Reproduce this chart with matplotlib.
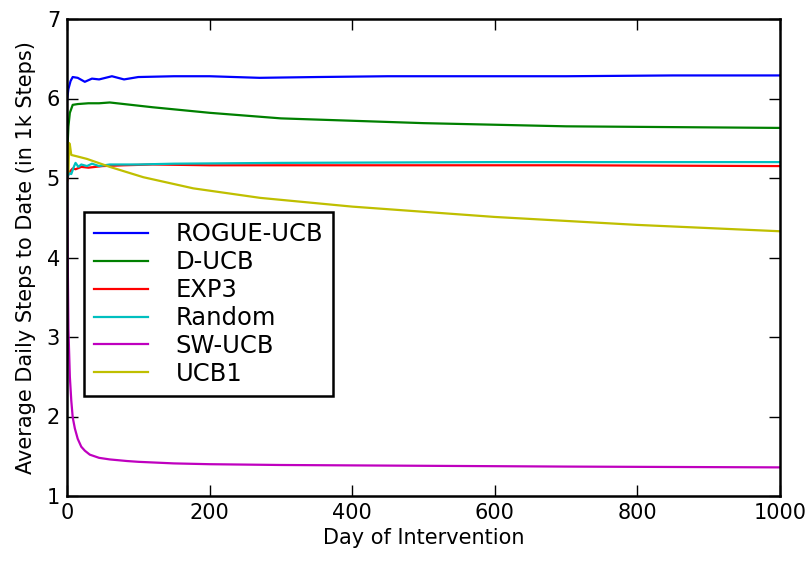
import matplotlib
matplotlib.use("Agg")
import matplotlib.pyplot as plt

# values (day, average daily steps in 1k)
rogue_days = [0, 2, 5, 8, 15, 25, 35, 45, 63, 80, 100, 150, 200, 270, 350, 450, 600, 700, 850, 1000]
rogue_vals = [5.98, 6.12, 6.22, 6.27, 6.26, 6.21, 6.25, 6.24, 6.28, 6.24, 6.27, 6.28, 6.28, 6.26, 6.27, 6.28, 6.28, 6.28, 6.29, 6.29]

ducb_days = [0, 1, 2, 4, 8, 15, 30, 45, 60, 80, 120, 200, 300, 400, 500, 600, 700, 850, 1000]
ducb_vals = [5.0, 5.45, 5.65, 5.82, 5.92, 5.93, 5.94, 5.94, 5.95, 5.93, 5.89, 5.82, 5.75, 5.72, 5.69, 5.67, 5.65, 5.64, 5.63]

exp3_days = [0, 2, 4, 8, 12, 20, 30, 50, 80, 120, 200, 300, 500, 700, 1000]
exp3_vals = [4.95, 5.05, 5.08, 5.12, 5.11, 5.14, 5.13, 5.15, 5.16, 5.17, 5.16, 5.16, 5.16, 5.16, 5.15]

random_days = [0, 3, 6, 10, 12, 16, 20, 28, 35, 45, 60, 100, 150, 300, 600, 1000]
random_vals = [5.0, 5.06, 5.05, 5.15, 5.19, 5.14, 5.17, 5.15, 5.18, 5.15, 5.17, 5.17, 5.18, 5.19, 5.2, 5.2]

swucb_days = [0, 1, 2, 4, 6, 8, 11, 15, 20, 25, 32, 45, 60, 84, 100, 150, 200, 300, 500, 700, 1000]
swucb_vals = [5.0, 4.0, 3.1, 2.5, 2.2, 1.99, 1.85, 1.72, 1.62, 1.57, 1.52, 1.48, 1.46, 1.44, 1.43, 1.41, 1.40, 1.39, 1.38, 1.37, 1.36]

ucb1_days = [0, 2, 3, 4, 6, 15, 28, 60, 107, 177, 271, 400, 600, 800, 1000]
ucb1_vals = [5.05, 5.08, 5.44, 5.42, 5.29, 5.27, 5.24, 5.14, 5.01, 4.87, 4.75, 4.64, 4.51, 4.41, 4.33]

series = [
    ("ROGUE-UCB", rogue_days, rogue_vals, "b"),
    ("D-UCB", ducb_days, ducb_vals, "g"),
    ("EXP3", exp3_days, exp3_vals, "r"),
    ("Random", random_days, random_vals, "c"),
    ("SW-UCB", swucb_days, swucb_vals, "m"),
    ("UCB1", ucb1_days, ucb1_vals, "y"),
]
# old matplotlib single-letter colours
colors = {"b": "#0000ff", "g": "#008000", "r": "#ff0000", "c": "#00bfbf", "m": "#bf00bf", "y": "#bfbf00"}

fig = plt.figure(figsize=(8.11, 5.61), dpi=100)
ax = fig.add_axes([67 / 811, 65 / 561, 713 / 811, 477 / 561])

for name, d, v, c in series:
    ax.plot(d, v, color=colors[c], lw=1.6, label=name)

ax.set_xlim(0, 1000)
ax.set_ylim(1, 7)
ax.set_xticks([0, 200, 400, 600, 800, 1000])
ax.set_yticks([1, 2, 3, 4, 5, 6, 7])
ax.tick_params(direction="in", top=True, right=True, length=8, width=1, labelsize=15, pad=5)
for s in ax.spines.values():
    s.set_linewidth(1.8)
ax.set_xlabel("Day of Intervention", fontsize=15, labelpad=4)
ax.set_ylabel("Average Daily Steps to Date (in 1k Steps)", fontsize=15, labelpad=8)

leg = ax.legend(loc="lower left", bbox_to_anchor=(17 / 713, 100 / 477), borderaxespad=0,
                fontsize=17.5, fancybox=False, framealpha=1, edgecolor="black",
                handlelength=2.2, handletextpad=1.15, labelspacing=0.16, borderpad=0.42)
leg.get_frame().set_linewidth(1.8)

fig.savefig("out.png", dpi=100)
